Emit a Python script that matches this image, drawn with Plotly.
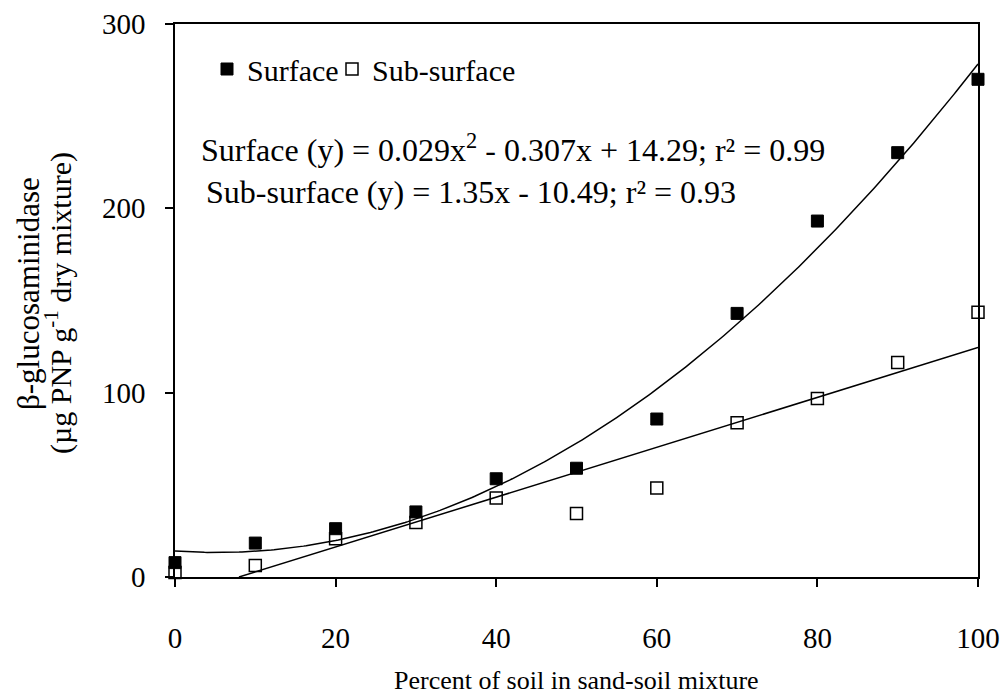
import numpy as np
import plotly.graph_objects as go

percent_soil = [0, 10, 20, 30, 40, 50, 60, 70, 80, 90, 100]
surface = [7.8, 18.4, 26.2, 35.3, 53.3, 59.0, 85.7, 143.0, 193.1, 230.2, 270.0]
subsurface = [2.5, 6.3, 20.8, 29.5, 42.9, 34.5, 48.3, 83.7, 96.9, 116.3, 143.6]

x_ticks = [0, 20, 40, 60, 80, 100]
y_ticks = [0, 100, 200, 300]

FONT = "Liberation Serif"

# trend lines fitted to the data (quadratic for surface, linear for sub-surface)
surface_coef = np.polyfit(percent_soil, surface, 2)
subsurface_coef = np.polyfit(percent_soil, subsurface, 1)

xs = np.linspace(0, 100, 301)
ys_surf = np.polyval(surface_coef, xs)
xs_sub = np.linspace(-subsurface_coef[1] / subsurface_coef[0], 100, 200)
ys_sub = np.polyval(subsurface_coef, xs_sub)

fig = go.Figure()
fig.add_trace(go.Scatter(x=xs, y=ys_surf, mode="lines", line=dict(color="black", width=1.5),
                         showlegend=False, hoverinfo="skip"))
fig.add_trace(go.Scatter(x=xs_sub, y=ys_sub, mode="lines", line=dict(color="black", width=1.5),
                         showlegend=False, hoverinfo="skip"))
fig.add_trace(go.Scatter(x=percent_soil, y=surface, mode="markers", name="Surface",
                         marker=dict(symbol="square", size=12, color="black",
                                     line=dict(color="black", width=1)),
                         cliponaxis=False, legend="legend"))
fig.add_trace(go.Scatter(x=percent_soil, y=subsurface, mode="markers", name="Sub-surface",
                         marker=dict(symbol="square-open", size=12, color="black",
                                     line=dict(color="black", width=1.5)),
                         cliponaxis=False, legend="legend2"))

def px_x(p):
    return (p - 175) / 803.0

def px_y(p):
    return 1 - (p - 24) / 553.0

fig.add_annotation(text="Surface (y) = 0.029x<sup>2</sup> - 0.307x + 14.29; r² = 0.99",
                   x=px_x(199), y=px_y(148), xref="paper", yref="paper", xanchor="left", yanchor="middle",
                   showarrow=False, font=dict(family=FONT, size=32, color="black"))
fig.add_annotation(text="Sub-surface (y) = 1.35x - 10.49; r² = 0.93",
                   x=px_x(204), y=px_y(192), xref="paper", yref="paper", xanchor="left", yanchor="middle",
                   showarrow=False, font=dict(family=FONT, size=32, color="black"))
fig.add_annotation(text="β-glucosaminidase",
                   x=px_x(28), y=px_y(294), xref="paper", yref="paper", xanchor="center", yanchor="middle",
                   textangle=-90, showarrow=False, font=dict(family=FONT, size=31, color="black"))
fig.add_annotation(text="(µg PNP g<sup>-1</sup> dry mixture)",
                   x=px_x(58), y=px_y(303), xref="paper", yref="paper", xanchor="center", yanchor="middle",
                   textangle=-90, showarrow=False, font=dict(family=FONT, size=30, color="black"))
fig.add_annotation(text="Percent of soil in sand-soil mixture",
                   x=px_x(576), y=-(680 - 577) / 553.0, xref="paper", yref="paper",
                   xanchor="center", yanchor="middle",
                   showarrow=False, font=dict(family=FONT, size=26, color="black"))

legend_common = dict(orientation="h", xanchor="left", yanchor="middle",
                     font=dict(family=FONT, size=30), bgcolor="rgba(0,0,0,0)",
                     itemwidth=30, tracegroupgap=0)

fig.update_layout(
    width=1007, height=696,
    margin=dict(l=175, r=29, t=24, b=119),
    paper_bgcolor="white", plot_bgcolor="white",
    font=dict(family=FONT, size=29, color="black"),
    legend=dict(x=px_x(207), y=px_y(69), **legend_common),
    legend2=dict(x=px_x(332), y=px_y(69), **legend_common),
    xaxis=dict(range=[0, 100], tickvals=x_ticks, ticks="outside", ticklen=8, tickwidth=1.5,
               tickcolor="black", showline=True, linecolor="black", linewidth=1.5, mirror=True,
               showgrid=False, zeroline=False, ticklabelstandoff=26, automargin=False,
               tickfont=dict(family=FONT, size=29)),
    yaxis=dict(range=[0, 300], tickvals=y_ticks, ticks="outside", ticklen=8, tickwidth=1.5,
               tickcolor="black", showline=True, linecolor="black", linewidth=1.5, mirror=True,
               showgrid=False, zeroline=False, ticklabelstandoff=14, automargin=False,
               tickfont=dict(family=FONT, size=29)),
)

fig.write_html("out.html")
